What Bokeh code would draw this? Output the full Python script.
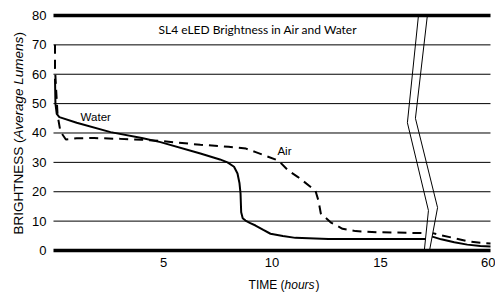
from bokeh.plotting import figure
from bokeh.models import Range1d, FixedTicker, Label, LinearAxis
from bokeh.embed import file_html
from bokeh.resources import INLINE

# ---- data ----
time_water = [0.0, 0.02, 0.08, 0.2, 1.0, 2.56, 4.0, 4.86, 6.7, 7.6, 7.95, 8.25, 8.41, 8.5,
              8.55, 8.58, 8.65, 8.78, 9.0, 9.24, 9.6, 9.93, 10.5, 11.08, 12.6, 15.0, 17.2,
              17.35, 17.8, 18.4, 19.0, 19.6, 20.07]
bright_water = [58.5, 50.0, 46.5, 45.4, 43.5, 40.3, 38.3, 36.9, 33.0, 31.0, 30.0, 28.5, 26.2, 23.0,
                19.4, 13.0, 11.0, 10.2, 9.3, 8.5, 7.0, 5.7, 4.9, 4.3, 3.9, 3.9, 3.9,
                4.8, 3.8, 2.8, 2.0, 1.5, 1.4]

time_air = [0.0, 0.0, 0.05, 0.12, 0.25, 0.5, 1.0, 1.8, 3.0, 4.0, 5.0, 6.7, 8.0, 8.8, 9.25,
            10.3, 10.75, 11.2, 12.0, 12.14, 12.25, 12.7, 13.25, 13.85, 14.9, 17.2,
            17.35, 17.8, 18.4, 19.0, 19.6, 20.07]
bright_air = [70.0, 62.0, 55.0, 46.0, 40.5, 37.8, 38.2, 38.3, 38.0, 37.7, 37.2, 36.0, 35.3, 34.7, 33.5,
              30.6, 27.2, 25.0, 20.4, 17.0, 12.6, 9.6, 7.4, 6.6, 6.2, 5.9,
              6.0, 5.2, 4.2, 3.2, 2.6, 2.4]

x_ticks = [5, 10, 15, 20]
x_tick_labels = ["5", "10", "15", "60"]
y_ticks = [0, 10, 20, 30, 40, 50, 60, 70, 80]
grid_values = [10, 20, 30, 40, 50, 60, 70]
rule_values = [0, 80]

# axis-break marker (two zig-zag lines)
break_left_x = [16.75, 16.24, 17.21, 17.02]
break_left_y = [80, 43.5, 13.6, 0]
break_right_x = [17.16, 16.61, 17.63, 17.26]
break_right_y = [80, 45, 14.6, 0]

X_START, X_END = -0.07, 20.07   # extent of the drawn plot area
TICK_FONT = "Liberation Sans"

p = figure(width=495, height=292, x_range=Range1d(-2.512, 20.30), y_range=Range1d(-14.298, 85.106),
           output_backend="svg", toolbar_location=None, title=None,
           x_axis_location=None, y_axis_location=None,
           min_border_left=0, min_border_right=0, min_border_top=0, min_border_bottom=0)
p.outline_line_color = None
p.background_fill_color = "white"
p.border_fill_color = "white"
p.xgrid.visible = False
p.ygrid.visible = False

# axes, placed at the edges of the drawn area
yaxis = LinearAxis(fixed_location=X_START, ticker=FixedTicker(ticks=y_ticks))
xaxis = LinearAxis(fixed_location=0, ticker=FixedTicker(ticks=x_ticks),
                   major_label_overrides={t: l for t, l in zip(x_ticks, x_tick_labels)})
for ax in (xaxis, yaxis):
    ax.axis_line_color = None
    ax.major_tick_line_color = None
    ax.minor_tick_line_color = None
    ax.major_tick_out = 0
    ax.major_tick_in = 0
    ax.minor_tick_out = 0
    ax.minor_tick_in = 0
    ax.major_label_text_font = TICK_FONT
    ax.major_label_text_font_size = "13px"
    ax.major_label_text_color = "black"
xaxis.major_label_standoff = 8
yaxis.major_label_standoff = 7
p.add_layout(yaxis, "left")
p.add_layout(xaxis, "below")

# curves
p.line(time_water, bright_water, line_color="black", line_width=2)
p.line(time_air, bright_air, line_color="black", line_width=2, line_dash="9 6")

# break marker
p.patch(break_left_x + break_right_x[::-1], break_left_y + break_right_y[::-1],
        fill_color="white", line_color=None)
p.line(break_left_x, break_left_y, line_color="black", line_width=1)
p.line(break_right_x, break_right_y, line_color="black", line_width=1)

# horizontal grid lines and thick top / bottom rules
p.segment(x0=[X_START] * len(grid_values), x1=[X_END] * len(grid_values),
          y0=grid_values, y1=grid_values, line_color="black", line_width=1)
p.segment(x0=[X_START] * len(rule_values), x1=[X_END] * len(rule_values),
          y0=rule_values, y1=rule_values, line_color="black", line_width=3.5)

# texts
p.add_layout(Label(x=4.77, y=75.2, text="SL4 eLED Brightness in Air and Water",
                   text_font="Lato", text_font_size="12px", text_baseline="middle",
                   text_align="left", text_color="black"))
p.add_layout(Label(x=1.18, y=45.6, text="Water", text_font=TICK_FONT,
                   text_font_size="11.5px", text_baseline="middle", text_color="black"))
p.add_layout(Label(x=10.25, y=34.0, text="Air", text_font=TICK_FONT,
                   text_font_size="11.5px", text_baseline="middle", text_color="black"))

# y-axis title (mixed styles), rotated
ang = 1.5707963
for txt, yy, style in [("BRIGHTNESS (", 5.45, "normal"), ("Average Lumens", 38.13, "italic"),
                       (")", 72.85, "normal")]:
    p.add_layout(Label(x=-1.68, y=yy, text=txt, angle=ang, text_font=TICK_FONT,
                       text_font_size="13.5px", text_font_style=style,
                       text_align="left", text_baseline="middle", text_color="black"))

# x-axis title (mixed styles)
for txt, xx, style in [("TIME (", 8.92, "normal"), ("hours", 10.58, "italic"), (")", 12.0, "normal")]:
    p.add_layout(Label(x=xx, y=-11.6, text=txt, text_font=TICK_FONT, text_font_size="12px",
                       text_font_style=style, text_align="left", text_baseline="alphabetic",
                       text_color="black"))

open("out.html", "w").write(file_html(p, INLINE))
